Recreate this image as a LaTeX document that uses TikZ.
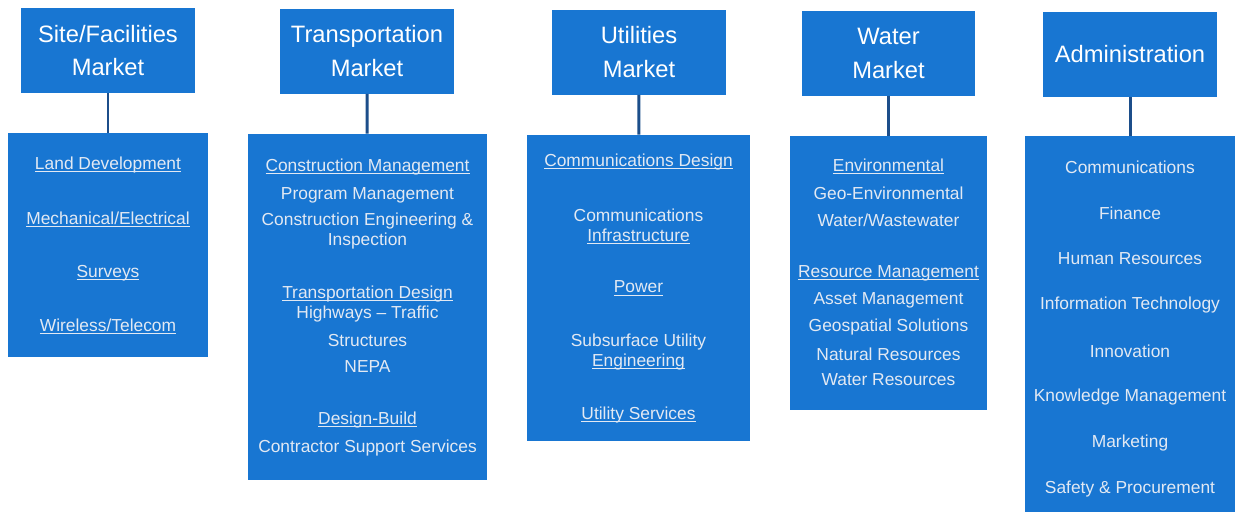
\documentclass[tikz,border=0pt]{standalone}
\usepackage{fontspec}
\setmainfont{Liberation Sans}
\definecolor{mktblue}{RGB}{24,118,210}
\definecolor{linkblue}{RGB}{28,78,138}
\definecolor{itemgray}{RGB}{226,233,243}
\newsavebox\lnkbox
\newcommand{\lnk}[1]{\sbox\lnkbox{#1}\rlap{\smash{\rule[-1.6pt]{\wd\lnkbox}{0.5pt}}}\usebox\lnkbox}
\begin{document}
\begin{tikzpicture}[x=0.02cm,y=-0.02cm,
  head/.style={fill=mktblue,text=white,align=center,font=\fontsize{13.5}{19.3}\selectfont,minimum width=3.48cm,minimum height=1.7cm,inner sep=0pt},
  list/.style={fill=mktblue,inner sep=0pt},
  item/.style={text=itemgray,align=center,font=\fontsize{9.9}{11.4}\selectfont,inner sep=0pt},
  link/.style={draw=linkblue,line width=1.7pt}]
  \useasboundingbox (0,0) rectangle (1241,512);
  % headers
  \node (site) [head] at (108,50.5) {Site/Facilities\\Market};
  \node (trans) [head] at (367,51) {Transportation\\Market};
  \node (util) [head] at (639,52) {Utilities\\Market};
  \node (water) [head] at (888.5,53) {Water\\Market};
  \node (admin) [head] at (1130,54.5) {Administration};
  % lists
  \node (sitebox) [list,minimum width=4cm,minimum height=4.48cm] at (108,245) {};
  \node (transbox) [list,minimum width=4.78cm,minimum height=6.92cm] at (367.5,307) {};
  \node (utilbox) [list,minimum width=4.46cm,minimum height=6.12cm] at (638.5,288) {};
  \node (waterbox) [list,minimum width=3.94cm,minimum height=5.48cm] at (888.5,273) {};
  \node (adminbox) [list,minimum width=4.2cm,minimum height=7.52cm] at (1130,324) {};
  \draw[link] (site) -- (sitebox);
  \draw[link] (trans) -- (transbox);
  \draw[link] (util) -- (utilbox);
  \draw[link] (water) -- (waterbox);
  \draw[link] (admin) -- (adminbox);
  % site/facilities
  \node (ld) [item] at (108,165) {\lnk{Land Development}};
  \node (me) [item] at (108,218) {\lnk{Mechanical/Electrical}};
  \node (sv) [item] at (108,273) {\lnk{Surveys}};
  \node (wt) [item] at (108,325) {\lnk{Wireless/Telecom}};
  % transportation
  \node (cm) [item] at (367.5,167) {\lnk{Construction Management}};
  \node (pm) [item] at (367.5,195) {Program Management};
  \node (cei) [item] at (367.5,231) {Construction Engineering \&\\Inspection};
  \node (td) [item] at (367.5,304) {\lnk{Transportation Design}\\Highways – Traffic};
  \node (st) [item] at (367.5,340) {Structures};
  \node (ne) [item] at (367.5,367) {NEPA};
  \node (db) [item] at (367.5,420) {\lnk{Design-Build}};
  \node (cs) [item] at (367.5,448) {Contractor Support Services};
  % utilities
  \node (cd) [item] at (638.5,162) {\lnk{Communications Design}};
  \node (ci) [item] at (638.5,225) {Communications\\\lnk{Infrastructure}};
  \node (pw) [item] at (638.5,287) {\lnk{Power}};
  \node (su) [item] at (638.5,352) {Subsurface Utility\\\lnk{Engineering}};
  \node (us) [item] at (638.5,415) {\lnk{Utility Services}};
  % water
  \node (en) [item] at (888.5,165) {\lnk{Environmental}};
  \node (ge) [item] at (888.5,193) {Geo-Environmental};
  \node (ww) [item] at (888.5,220) {Water/Wastewater};
  \node (rm) [item] at (888.5,273) {\lnk{Resource Management}};
  \node (am) [item] at (888.5,300) {Asset Management};
  \node (gs) [item] at (888.5,327) {Geospatial Solutions};
  \node (nr) [item] at (888.5,354) {Natural Resources};
  \node (wr) [item] at (888.5,380) {Water Resources};
  % administration
  \node (co) [item] at (1130,167) {Communications};
  \node (fi) [item] at (1130,213) {Finance};
  \node (hr) [item] at (1130,259) {Human Resources};
  \node (it) [item] at (1130,305) {Information Technology};
  \node (in) [item] at (1130,351) {Innovation};
  \node (km) [item] at (1130,397) {Knowledge Management};
  \node (mk) [item] at (1130,443) {Marketing};
  \node (sp) [item] at (1130,489) {Safety \& Procurement};
\end{tikzpicture}
\end{document}
